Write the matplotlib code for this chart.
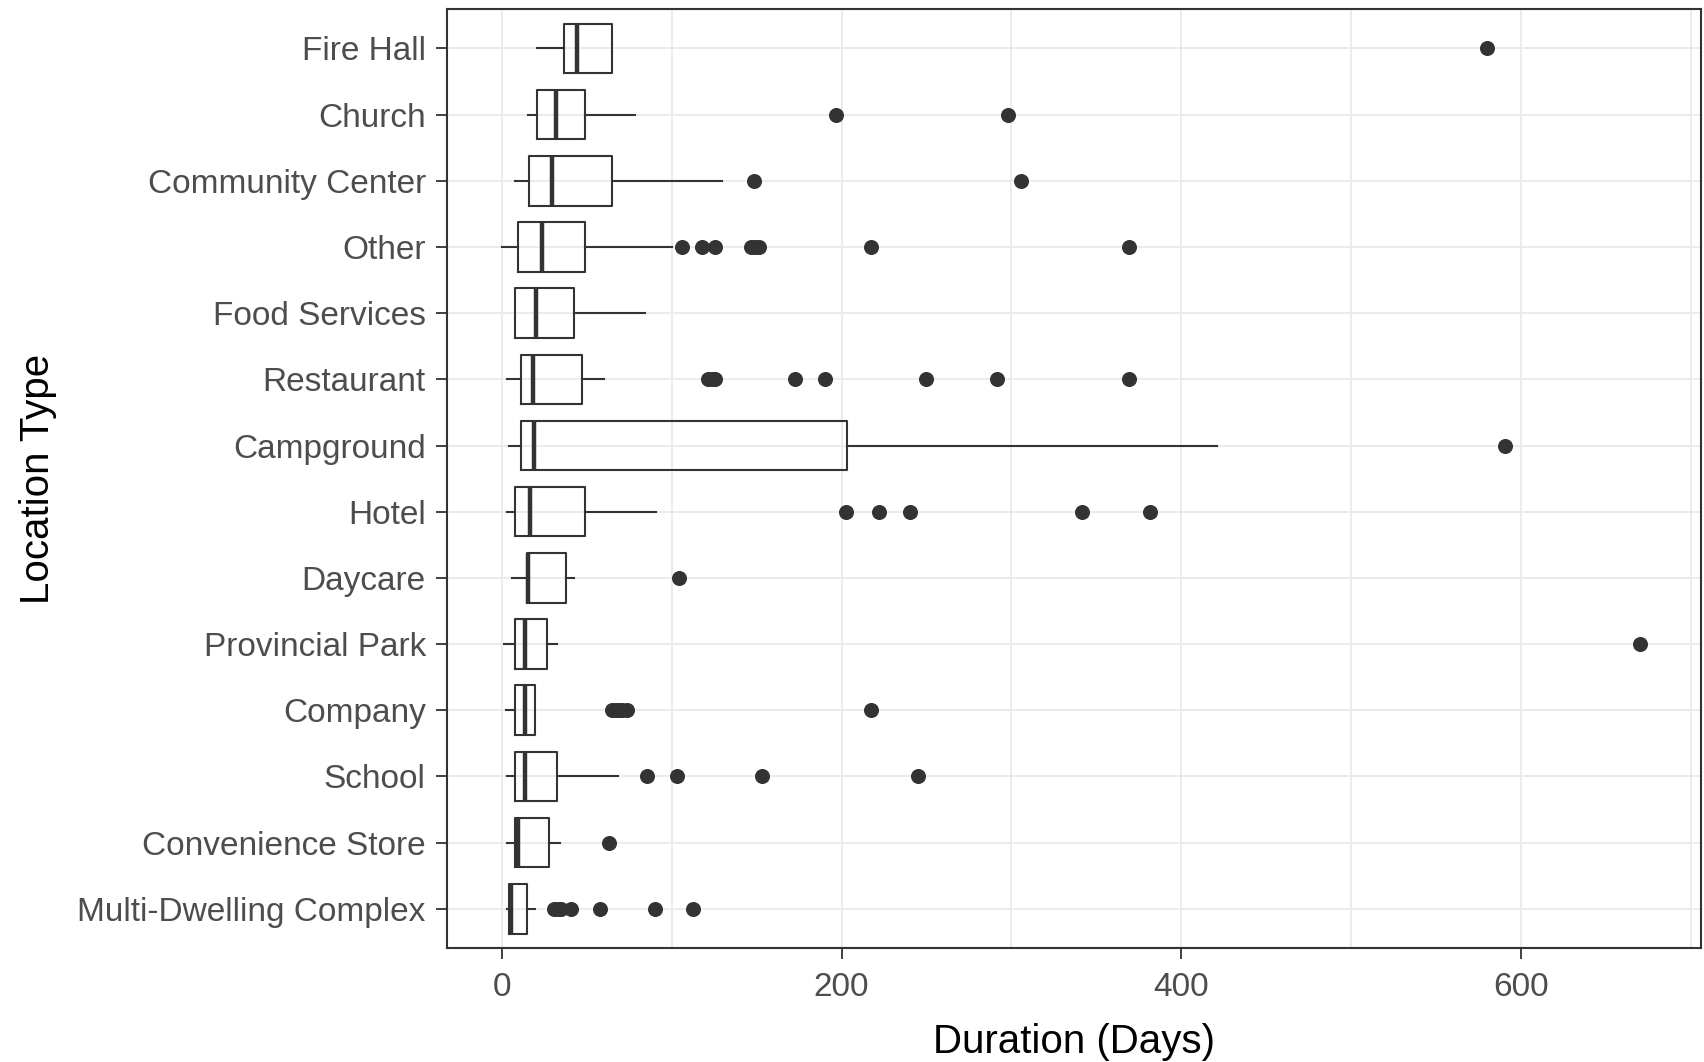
import matplotlib.pyplot as plt
import numpy as np

# location types, top to bottom
location = ['Fire Hall', 'Church', 'Community Center', 'Other', 'Food Services',
            'Restaurant', 'Campground', 'Hotel', 'Daycare', 'Provincial Park',
            'Company', 'School', 'Convenience Store', 'Multi-Dwelling Complex']

# box statistics in days
whis_lo = [20.5, 15.6, 7.6, 0.0, 8.0, 2.9, 4.5, 2.9, 6.0, 1.2, 2.7, 2.9, 2.9, 2.9]
q1      = [36.7, 20.7, 16.0, 9.6, 8.0, 11.3, 11.3, 8.0, 15.0, 8.0, 8.0, 8.0, 8.0, 4.5]
median  = [44.4, 31.7, 29.9, 23.5, 20.3, 18.5, 18.8, 16.8, 15.4, 13.7, 13.9, 13.5, 9.8, 5.3]
q3      = [64.9, 48.9, 64.9, 48.9, 42.4, 47.1, 203.1, 48.9, 37.7, 26.6, 19.9, 32.6, 27.7, 15.0]
whis_hi = [64.9, 78.2, 129.6, 100.0, 84.6, 60.4, 421.0, 90.9, 42.8, 32.8, 19.9, 68.4, 34.6, 19.9]

outliers = [
    [580.0],
    [196.5, 298.0],
    [148.2, 305.6],
    [106.1, 117.7, 125.7, 146.6, 149.0, 151.5, 217.4, 369.0],
    [],
    [121.2, 123.5, 125.7, 172.4, 190.0, 249.6, 291.7, 369.0],
    [590.5],
    [202.7, 222.3, 240.0, 341.3, 381.3],
    [104.6],
    [669.6],
    [65.0, 67.0, 69.0, 71.0, 74.0, 217.4],
    [85.4, 103.2, 153.1, 244.7],
    [62.9],
    [30.7, 33.0, 35.0, 40.5, 58.0, 90.3, 112.8],
]

x_ticks = [0, 200, 400, 600]

dark = '#333333'
plt.rcParams['font.family'] = ['Liberation Sans', 'DejaVu Sans']

stats = []
for i in range(len(location)):
    stats.append(dict(label=location[i], whislo=whis_lo[i], q1=q1[i], med=median[i],
                      q3=q3[i], whishi=whis_hi[i], fliers=outliers[i]))

fig = plt.figure(figsize=(17.04, 10.62), dpi=100)
ax = fig.add_axes([0.2621, 0.1069, 0.998 - 0.2621, 0.9918 - 0.1069])

pos = np.arange(len(location))[::-1] + 1
ax.bxp(stats, positions=pos, vert=False, widths=0.75, showcaps=False,
       boxprops=dict(color=dark, linewidth=1.5),
       whiskerprops=dict(color=dark, linewidth=1.5),
       medianprops=dict(color=dark, linewidth=3.2, solid_capstyle='butt'),
       flierprops=dict(marker='o', markerfacecolor=dark, markeredgecolor=dark,
                       markersize=9.8, linestyle='none'),
       zorder=3)

ax.set_xlim(-32.4, 705.5)
ax.set_ylim(0.4, len(location) + 0.6)

ax.set_xticks(x_ticks)
ax.set_xticks([100, 300, 500, 700], minor=True)
ax.set_yticks(pos)
ax.set_yticklabels(location)
ax.grid(True, which='both', color='#EBEBEB', linewidth=1.4, zorder=0)
ax.set_axisbelow(True)

ax.tick_params(axis='both', which='major', length=8, width=1.3, color=dark,
               labelsize=24, labelcolor='#4D4D4D', pad=7)
ax.tick_params(axis='x', which='minor', length=0)
ax.tick_params(axis='x', which='major', pad=9)

for s in ax.spines.values():
    s.set_color(dark)
    s.set_linewidth(1.5)

ax.set_xlabel('Duration (Days)', fontsize=29, color='black', labelpad=14)
ax.set_ylabel('Location Type', fontsize=29, color='black', labelpad=15)

fig.savefig('out.png', dpi=100, facecolor='white')
